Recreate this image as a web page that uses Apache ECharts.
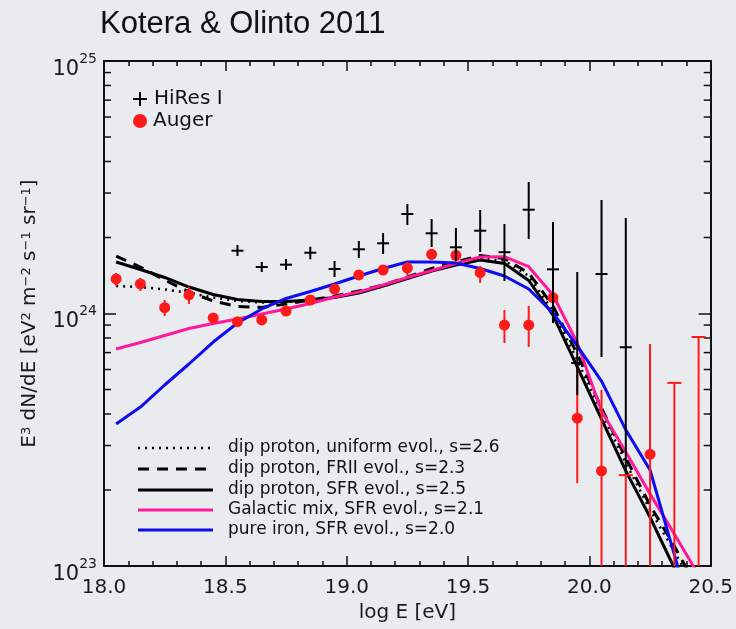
<!DOCTYPE html>
<html><head><meta charset="utf-8">
<script src="https://cdn.jsdelivr.net/npm/echarts@6/dist/echarts.min.js"></script>
<style>html,body{margin:0;padding:0;background:#e9ebef}#c{width:736px;height:629px}</style>
</head><body><div id="c"></div><script>
// Values in units of 1e24 eV^2 m^-2 s^-1 sr^-1
const modelE = [18.05,18.15,18.25,18.35,18.45,18.55,18.65,18.75,18.85,18.95,19.05,19.15,19.25,19.35,19.45,19.55,19.65,19.75,19.85,19.95,20.05,20.15,20.25,20.35,20.45];
const dipUniform = [1.285,1.273,1.245,1.206,1.157,1.121,1.106,1.111,1.126,1.157,1.211,1.279,1.376,1.474,1.571,1.651,1.621,1.408,1.023,0.655,0.404,0.256,0.167,0.114,0.077];
const dipFRII = [1.689,1.528,1.357,1.217,1.121,1.066,1.056,1.091,1.131,1.173,1.228,1.297,1.395,1.507,1.599,1.697,1.651,1.447,1.071,0.691,0.422,0.268,0.174,0.120,0.080];
const dipSFR = [1.599,1.494,1.389,1.273,1.189,1.136,1.116,1.116,1.131,1.157,1.206,1.285,1.376,1.474,1.557,1.629,1.578,1.351,0.986,0.614,0.382,0.238,0.156,0.098,0.062];
const galMix = [0.723,0.768,0.818,0.872,0.913,0.951,0.996,1.042,1.095,1.162,1.217,1.297,1.389,1.480,1.578,1.674,1.679,1.532,1.184,0.764,0.411,0.283,0.193,0.134,0.092];
const pureIron = [0.365,0.426,0.521,0.631,0.771,0.917,1.042,1.147,1.222,1.309,1.408,1.507,1.599,1.599,1.585,1.507,1.408,1.250,1.005,0.744,0.540,0.346,0.240,0.111,0.051];

const hiresE = [18.55,18.65,18.75,18.85,18.95,19.05,19.15,19.25,19.35,19.45,19.55,19.65,19.75,19.85,19.95,20.05,20.15];
const hiresY = [1.773,1.528,1.561,1.741,1.501,1.796,1.897,2.478,2.078,1.829,2.128,1.749,2.577,1.496,0.637,1.433,0.735];
const hiresHi = [1.867,1.600,1.644,1.839,1.614,1.937,2.084,2.715,2.368,2.182,2.570,2.262,3.317,2.303,1.460,2.815,2.389];
const hiresLo = [1.690,1.460,1.487,1.639,1.395,1.659,1.720,2.242,1.834,1.614,1.752,1.345,1.972,0.917,0.476,0.673,0.231];

const augerE = [18.05,18.15,18.25,18.35,18.45,18.55,18.65,18.75,18.85,18.95,19.05,19.15,19.25,19.35,19.45,19.55,19.65,19.75,19.85,19.95,20.05,20.25];
const augerY = [1.370,1.309,1.054,1.184,0.960,0.928,0.943,1.023,1.131,1.250,1.421,1.487,1.514,1.716,1.700,1.451,0.900,0.900,1.155,0.385,0.238,0.277];
const augerHi = [1.447,1.383,1.131,1.273,0.996,0.960,0.978,1.061,1.173,1.297,1.474,1.542,1.599,1.801,1.801,1.542,1.032,1.071,1.383,0.608,0.498,0.757];
const augerLo = [1.285,1.228,0.978,1.091,0.926,0.900,0.909,0.986,1.091,1.206,1.370,1.434,1.421,1.629,1.599,1.321,0.764,0.737,0.917,0.213,0.100,0.100];
const augerLimE = [20.15,20.35,20.45];
const augerLimCap = [0.229,0.531,0.807];

const xTicks = [18.0,18.5,19.0,19.5,20.0,20.5];
const yMinorTicks = [0.2,0.3,0.4,0.5,0.6,0.7,0.8,0.9,2,3,4,5,6,7,8,9];
const yExpOffset = 24;

const FONT = '"DejaVu Sans", sans-serif';
const BLACK = '#000000', PINK = '#ff1a9c', BLUE = '#0d0df0', RED = '#ff1a1a';

function line(name, ys, color, type, width, z) {
  return {type:'line', name, data: modelE.map((e,i)=>[e, ys[i]]), symbol:'none', clip:true, z,
    lineStyle:{color, width, type}, silent:true};
}

const chart = echarts.init(document.getElementById('c'), null, {renderer:'canvas'});
const axisCommonX = {
  type:'value', min:18, max:20.5, interval:0.5,
  axisLine:{show:true, onZero:false, lineStyle:{color:'#111', width:2}},
  axisTick:{show:true, inside:true, length:10, lineStyle:{color:'#111', width:1.5}},
  minorTick:{show:true, splitNumber:5, length:5, lineStyle:{color:'#111', width:1.5}},
  splitLine:{show:false}, minorSplitLine:{show:false}
};
const axisCommonY = {
  type:'log', logBase:10, min:0.1, max:10,
  axisLine:{show:true, onZero:false, lineStyle:{color:'#111', width:2}},
  axisTick:{show:true, inside:true, length:12, lineStyle:{color:'#111', width:1.5}},
  splitLine:{show:false}
};

chart.setOption({
  backgroundColor:'#e9ebef',
  animation:false,
  grid:{left:104, right:25, top:61, bottom:63, containLabel:false},
  xAxis:[
    Object.assign({}, axisCommonX, {position:'bottom',
      axisLabel:{formatter:v=>v.toFixed(1), fontSize:20, color:'#1a1a1a', fontFamily:FONT, margin:12,
        customValues: xTicks},
      name:'log E [eV]', nameLocation:'middle', nameGap:36,
      nameTextStyle:{fontSize:20, fontFamily:FONT, color:'#1a1a1a'}}),
    Object.assign({}, axisCommonX, {position:'top', axisLabel:{show:false}})
  ],
  yAxis:[
    Object.assign({}, axisCommonY, {position:'left',
      axisLabel:{margin:7, padding:[10,0,0,0], formatter:v=>'{b|10}{s|'+(Math.round(Math.log10(v))+yExpOffset)+'}',
        rich:{b:{fontSize:21, fontFamily:FONT, color:'#1a1a1a', verticalAlign:'bottom', lineHeight:28},
              s:{fontSize:14, fontFamily:FONT, color:'#1a1a1a', verticalAlign:'top', lineHeight:14}}},
      name:'E{s|3} dN/dE [eV{s|2} m{s|−2} s{s|−1} sr{s|−1}]', nameLocation:'middle', nameRotate:90, nameGap:64,
      nameTextStyle:{fontSize:20, fontFamily:FONT, color:'#1a1a1a',
        rich:{s:{fontSize:13, fontFamily:FONT, color:'#1a1a1a', verticalAlign:'top', lineHeight:13}}}}),
    Object.assign({}, axisCommonY, {position:'right', axisLabel:{show:false}})
  ],
  series:[
    {type:'custom', name:'yMinor', clip:false, z:1, silent:true,
      data: yMinorTicks.map(v=>[18.0, v]), encode:{x:0, y:1},
      renderItem:(params, api)=>{
        const cs = params.coordSys;
        const y = api.coord([api.value(0), api.value(1)])[1];
        const st = {stroke:'#111', lineWidth:1.5};
        return {type:'group', children:[
          {type:'line', shape:{x1:cs.x, y1:y, x2:cs.x+7, y2:y}, style:st},
          {type:'line', shape:{x1:cs.x+cs.width-7, y1:y, x2:cs.x+cs.width, y2:y}, style:st}
        ]};
      }},
    line('dip proton, uniform evol., s=2.6', dipUniform, BLACK, [2,5], 2.5, 2),
    line('dip proton, FRII evol., s=2.3', dipFRII, BLACK, [11,8], 3, 2),
    line('dip proton, SFR evol., s=2.5', dipSFR, BLACK, 'solid', 3, 2),
    line('Galactic mix, SFR evol., s=2.1', galMix, PINK, 'solid', 3, 2),
    line('pure iron, SFR evol., s=2.0', pureIron, BLUE, 'solid', 3, 2),
    {type:'custom', name:'Auger err', clip:true, z:3, silent:true,
      data: augerE.map((e,i)=>[e, augerLo[i], augerHi[i]]), encode:{x:0, y:[1,2]},
      renderItem:(params, api)=>{
        const x = api.value(0);
        const a = api.coord([x, api.value(1)]), b = api.coord([x, api.value(2)]);
        return {type:'line', shape:{x1:a[0], y1:a[1], x2:b[0], y2:b[1]}, style:{stroke:RED, lineWidth:2}};
      }},
    {type:'custom', name:'Auger limits', clip:true, z:3, silent:true,
      data: augerLimE.map((e,i)=>[e, augerLimCap[i]]), encode:{x:0, y:1},
      renderItem:(params, api)=>{
        const x = api.value(0);
        const top = api.coord([x, api.value(1)]), bot = api.coord([x, 0.1]);
        const st = {stroke:RED, lineWidth:2};
        return {type:'group', children:[
          {type:'line', shape:{x1:top[0], y1:top[1], x2:bot[0], y2:bot[1]}, style:st},
          {type:'line', shape:{x1:top[0]-7, y1:top[1], x2:top[0]+7, y2:top[1]}, style:st}
        ]};
      }},
    {type:'scatter', name:'Auger', data: augerE.map((e,i)=>[e, augerY[i]]), symbol:'circle', symbolSize:11,
      itemStyle:{color:RED, opacity:1}, z:4, silent:true},
    {type:'custom', name:'HiRes I', clip:true, z:5, silent:true,
      data: hiresE.map((e,i)=>[e, hiresY[i], hiresLo[i], hiresHi[i]]), encode:{x:0, y:[1,2,3]},
      renderItem:(params, api)=>{
        const x = api.value(0);
        const c = api.coord([x, api.value(1)]);
        const lo = api.coord([x, api.value(2)]), hi = api.coord([x, api.value(3)]);
        const st = {stroke:'#000', lineWidth:2};
        return {type:'group', children:[
          {type:'line', shape:{x1:c[0]-6, y1:c[1], x2:c[0]+6, y2:c[1]}, style:st},
          {type:'line', shape:{x1:hi[0], y1:hi[1], x2:lo[0], y2:lo[1]}, style:st}
        ]};
      }}
  ],
  graphic:[
    {type:'text', left:100, top:9, style:{text:'Kotera & Olinto 2011', font:'31px "Liberation Sans", Arial, sans-serif', fill:'#111'}},
    {type:'line', shape:{x1:133, y1:99, x2:147, y2:99}, style:{stroke:'#000', lineWidth:2}},
    {type:'line', shape:{x1:140, y1:92, x2:140, y2:106}, style:{stroke:'#000', lineWidth:2}},
    {type:'text', x:154, y:99, style:{text:'HiRes I', font:'20px '+FONT, fill:'#111', verticalAlign:'middle'}},
    {type:'circle', shape:{cx:140, cy:121, r:7}, style:{fill:RED}},
    {type:'text', x:153, y:121, style:{text:'Auger', font:'20px '+FONT, fill:'#111', verticalAlign:'middle'}},
    {type:'line', shape:{x1:138, y1:448, x2:213, y2:448}, style:{stroke:'#000', lineWidth:2.5, lineDash:[2,5]}},
    {type:'text', x:228, y:448, style:{text:'dip proton, uniform evol., s=2.6', font:'17px '+FONT, fill:'#111', verticalAlign:'middle'}},
    {type:'line', shape:{x1:138, y1:469, x2:213, y2:469}, style:{stroke:'#000', lineWidth:3, lineDash:[11,8]}},
    {type:'text', x:228, y:469, style:{text:'dip proton, FRII evol., s=2.3', font:'17px '+FONT, fill:'#111', verticalAlign:'middle'}},
    {type:'line', shape:{x1:138, y1:490, x2:213, y2:490}, style:{stroke:'#000', lineWidth:3}},
    {type:'text', x:228, y:490, style:{text:'dip proton, SFR evol., s=2.5', font:'17px '+FONT, fill:'#111', verticalAlign:'middle'}},
    {type:'line', shape:{x1:138, y1:510, x2:213, y2:510}, style:{stroke:PINK, lineWidth:3}},
    {type:'text', x:228, y:510, style:{text:'Galactic mix, SFR evol., s=2.1', font:'17px '+FONT, fill:'#111', verticalAlign:'middle'}},
    {type:'line', shape:{x1:138, y1:530, x2:213, y2:530}, style:{stroke:BLUE, lineWidth:3}},
    {type:'text', x:228, y:530, style:{text:'pure iron, SFR evol., s=2.0', font:'17px '+FONT, fill:'#111', verticalAlign:'middle'}}
  ]
});
</script></body></html>
